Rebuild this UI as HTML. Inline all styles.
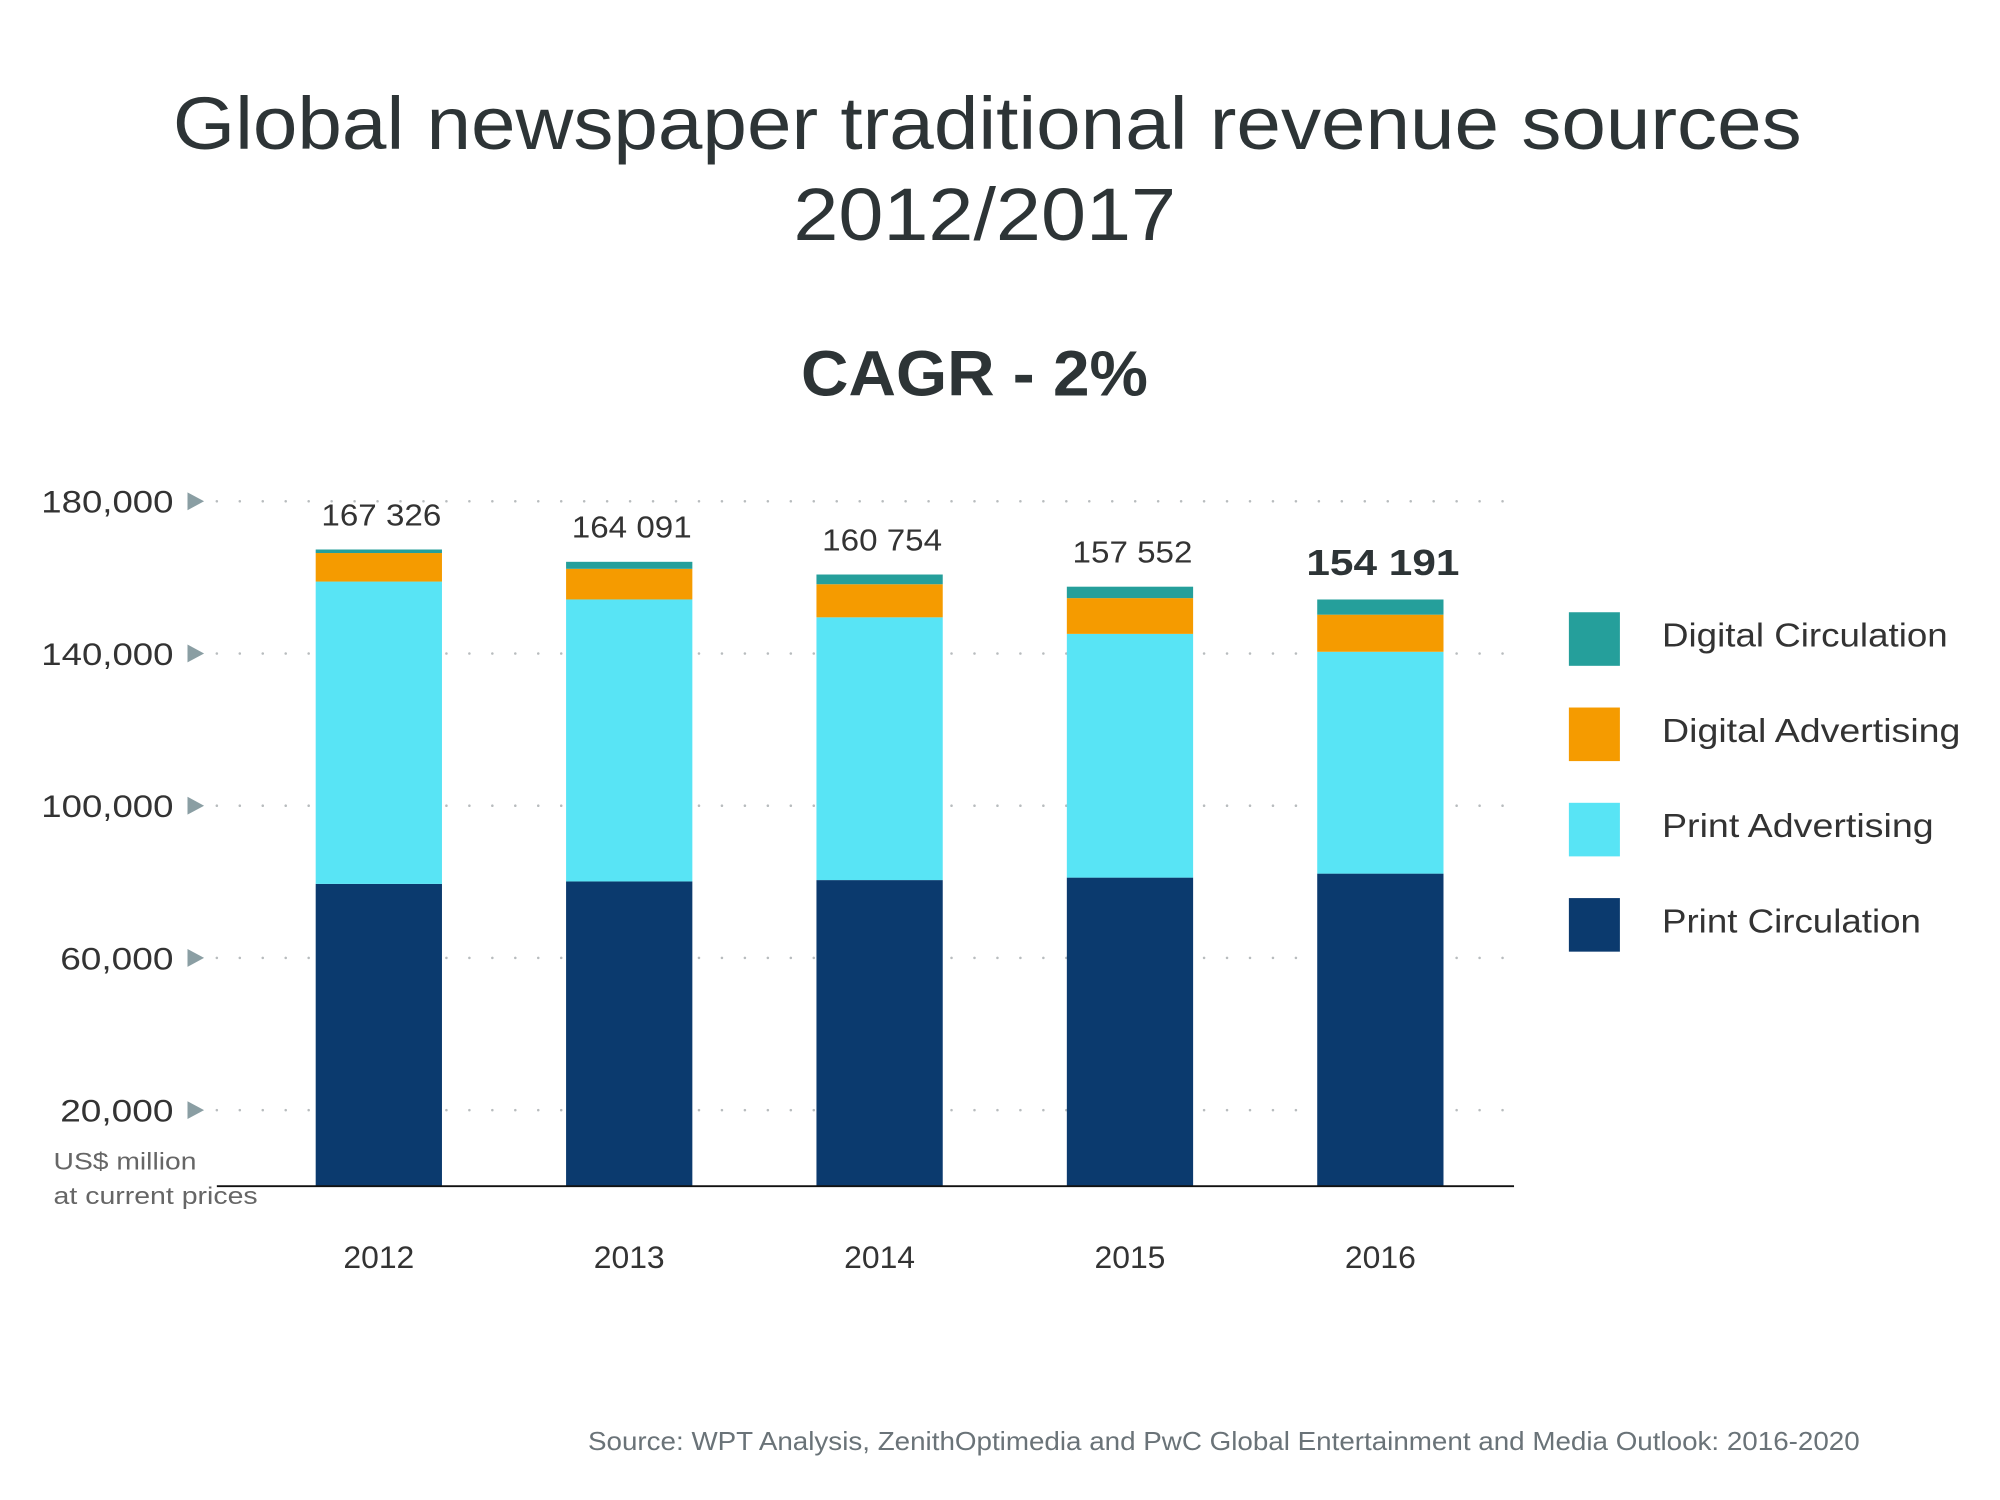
<!DOCTYPE html>
<html><head><meta charset="utf-8"><style>
html,body{margin:0;padding:0;background:#fff;width:2000px;height:1500px;overflow:hidden}
svg{display:block}
text{font-family:"Liberation Sans",sans-serif}
</style></head><body>
<svg id="chart" width="2000" height="1500" viewBox="0 0 1568 1176" xmlns="http://www.w3.org/2000/svg">
<text x="774" y="117" text-anchor="middle" font-size="58" fill="#2d3436" textLength="1277" lengthAdjust="spacingAndGlyphs">Global newspaper traditional revenue sources</text>
<text x="772" y="188" text-anchor="middle" font-size="58" fill="#2d3436" textLength="300" lengthAdjust="spacingAndGlyphs">2012/2017</text>
<text x="764" y="310" text-anchor="middle" font-size="50" font-weight="bold" fill="#2d3436" textLength="272" lengthAdjust="spacingAndGlyphs">CAGR - 2%</text>
<g id="grid"></g>
<g id="yaxis"></g>
<g id="bars"></g>
<g id="xaxis"></g>
<line x1="170" y1="930" x2="1187" y2="930" stroke="#111" stroke-width="1.5"/>
<text x="42" y="917" font-size="19" fill="#666" textLength="112" lengthAdjust="spacingAndGlyphs">US$ million</text>
<text x="42" y="944" font-size="19" fill="#666" textLength="160" lengthAdjust="spacingAndGlyphs">at current prices</text>
<g id="legend"></g>
<text x="1458" y="1137" text-anchor="end" font-size="20" fill="#6a7378" textLength="997" lengthAdjust="spacingAndGlyphs">Source: WPT Analysis, ZenithOptimedia and PwC Global Entertainment and Media Outlook: 2016-2020</text>
</svg>
<script>
const years = ["2012","2013","2014","2015","2016"];
const printCirculation = [79450, 80100, 80450, 81100, 82150];
const printAdvertising = [79450, 74100, 69050, 64050, 58300];
const digitalAdvertising = [7500, 8050, 8700, 9400, 9750];
const digitalCirculation = [926, 1841, 2554, 3002, 3991];
const totalLabels = ["167 326","164 091","160 754","157 552","154 191"];
const yTicks = [20000, 60000, 100000, 140000, 180000];
const yTickLabels = ["20,000","60,000","100,000","140,000","180,000"];
const seriesNames = ["Print Circulation","Print Advertising","Digital Advertising","Digital Circulation"];

const NS = "http://www.w3.org/2000/svg";
const colors = ["#0b3a6e","#58e4f5","#f59b00","#259f9b"];
const legendWidths = {"Print Circulation":203,"Print Advertising":213,"Digital Advertising":234,"Digital Circulation":224};
const y = v => 930 - v * (930 - 393) / 180000;
const xC = i => 297 + i * 196.3;
const bw = 99;
function mk(tag, attrs, parent){const e=document.createElementNS(NS,tag);for(const k in attrs)e.setAttribute(k,attrs[k]);parent.appendChild(e);return e;}

const grid=document.getElementById('grid'), ya=document.getElementById('yaxis');
yTicks.forEach((t,i)=>{
  const gy=y(t);
  const ln=mk('line',{x1:170,y1:gy,x2:1188,y2:gy,stroke:'#b8bcbe','stroke-width':2,'stroke-dasharray':'0 18','stroke-linecap':'round'},grid);
  
  
  const lab=yTickLabels[i];
  const tx=mk('text',{x:136,y:gy+9,'text-anchor':'end','font-size':25,fill:'#333',textLength:lab.length*14.8,lengthAdjust:'spacingAndGlyphs'},ya);
  tx.textContent=lab;
  
  
  const tr=mk('polygon',{points:`147,${gy-7} 160,${gy} 147,${gy+7}`,fill:'#8a9ea3'},ya);
  
  
});

const bars=document.getElementById('bars'), xa=document.getElementById('xaxis');
const series=[printCirculation,printAdvertising,digitalAdvertising,digitalCirculation];
years.forEach((yr,i)=>{
  let base=0;
  series.forEach((s,k)=>{
    const top=base+s[i];
    const r=mk('rect',{x:xC(i)-bw/2,y:y(top),width:bw,height:y(base)-y(top),fill:colors[k]},bars);
    
    
    base=top;
  });
  const last=i===years.length-1;
  const vl=mk('text',{x:xC(i)+2,y:y(base)-19,'text-anchor':'middle','font-size':last?28:24,'font-weight':last?'bold':'normal',fill:last?'#2d3436':'#333',textLength:last?120:94,lengthAdjust:'spacingAndGlyphs'},bars);
  vl.textContent=totalLabels[i];
  
  
  const xl=mk('text',{x:xC(i),y:994,'text-anchor':'middle','font-size':25,fill:'#333'},xa);
  xl.textContent=yr;
  
  
});

const lg=document.getElementById('legend');
const legendOrder=[3,2,1,0];
legendOrder.forEach((k,j)=>{
  const ly=480+j*74.7;
  const sw=mk('rect',{x:1230,y:ly,width:40,height:42,fill:colors[k]},lg);
  
  
  const t=mk('text',{x:1303,y:ly+27,'font-size':26,fill:'#333',textLength:legendWidths[seriesNames[k]],lengthAdjust:'spacingAndGlyphs'},lg);
  t.textContent=seriesNames[k];
  
  
});
</script>
</body></html>
